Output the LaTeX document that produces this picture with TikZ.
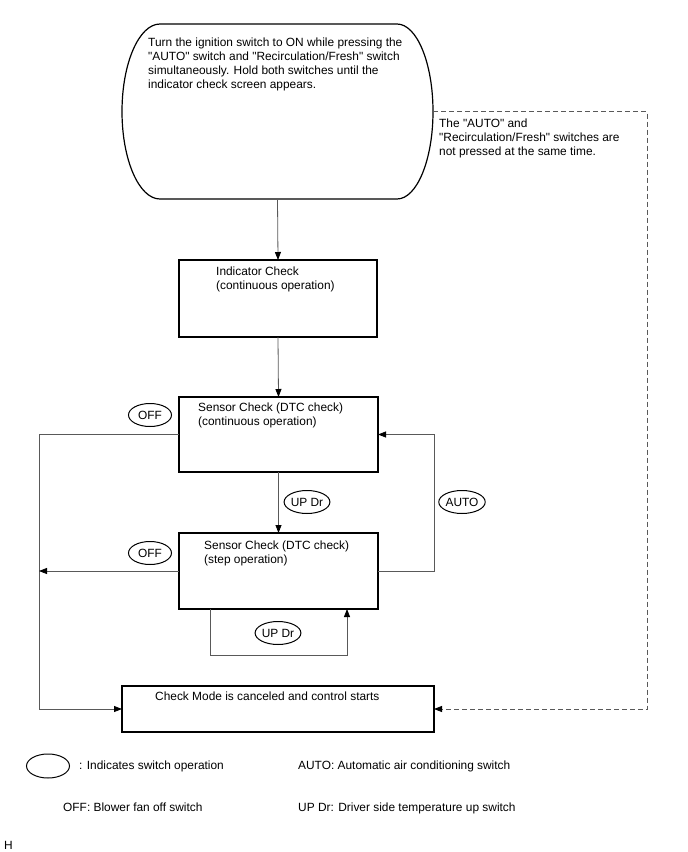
\documentclass[tikz,border=0pt]{standalone}
\usepackage{fontspec}
\setmainfont{Liberation Sans}[Ligatures=TeXOff]
\usetikzlibrary{arrows.meta,positioning,shapes.geometric}

\tikzset{
  box/.style={draw, line width=1.2pt, anchor=north west, inner sep=0pt, outer sep=0pt},
  txt/.style={inner sep=0pt, align=left, anchor=north west, font=\fontsize{11.9}{14}\selectfont},
  sw/.style={draw, ellipse, line width=1pt, inner sep=0pt, minimum width=43pt,
    minimum height=23pt, font=\fontsize{11.9}{14}\selectfont},
  conn/.style={draw=black!65, line width=0.8pt, -{Triangle[length=8pt,width=6pt,black]}},
  dconn/.style={conn, dash pattern=on 5pt off 3pt}
}

\begin{document}
\begin{tikzpicture}[x=1pt,y=-1pt]
    \useasboundingbox (0,0) rectangle (688,852);

    % start condition
    \node[minimum width=311pt, minimum height=175pt, inner sep=0pt, outer sep=0pt] (start) at (277.5,111.5) {};
    \draw[line width=1.2pt] (160,24) -- (397,24)
        arc[start angle=-90, end angle=90, x radius=36, y radius=87.5] -- (160,199)
        arc[start angle=90, end angle=270, x radius=38, y radius=87.5] -- cycle;
    \node[txt, below right=14pt and 26pt of start.north west] (starttxt)
        {Turn the ignition switch to ON while pressing the\\
         "AUTO" switch and "Recirculation/Fresh" switch\\
         simultaneously. Hold both switches until the\\
         indicator check screen appears.};
    \node[txt, below right=7pt and 6pt of start.east] (note)
        {The "AUTO" and\\"Recirculation/Fresh" switches are\\not pressed at the same time.};

    % check boxes
    \node[box, minimum width=198pt, minimum height=77pt] (ind) at (179,260) {};
    \node[txt, below right=7pt and 37pt of ind.north west] (indtxt) {Indicator Check\\(continuous operation)};

    \node[box, minimum width=199pt, minimum height=75pt] (cont) at (179,397) {};
    \node[txt, below right=6pt and 19pt of cont.north west] (conttxt) {Sensor Check (DTC check)\\(continuous operation)};

    \node[box, minimum width=199pt, minimum height=76pt] (step) at (179,533) {};
    \node[txt, below right=8pt and 25pt of step.north west] (steptxt) {Sensor Check (DTC check)\\(step operation)};

    \node[box, minimum width=312pt, minimum height=46pt] (fin) at (122,686) {};
    \node[txt, below right=6pt and 33pt of fin.north west] (fintxt) {Check Mode is canceled and control starts};

    % switch operations
    \node[sw] (off1) at (150,415) {OFF};
    \node[sw] (off2) at (150,553) {OFF};
    \node[sw] (up1)  at (307,502) {UP Dr};
    \node[sw] (up2)  at (278,633) {UP Dr};
    \node[sw] (auto) at (462,502) {AUTO};

    % connectors
    \coordinate (offend) at (39,571);
    \draw[conn] (start.south) -- (ind.north);
    \draw[conn] (ind.south) -- (cont.north);
    \draw[conn] (cont.south) -- (step.north);
    \draw[conn] ([xshift=31pt]step.south west) -- ++(0,46) -| ([xshift=-31pt]step.south east);
    \draw[conn] (step.east) -- ++(56,0) |- (cont.east);
    \draw[conn] (cont.west) -- ++(-140,0) |- (fin.west);
    \draw[conn] (step.west) -- (offend);
    \draw[dconn] (start.east) -- ++(214,0) |- (fin.east);

    % legend
    \node[sw, minimum height=24pt] (key) at (48,766) {};
    \node[txt, right=9pt of key, anchor=west] (keytxt) {: Indicates switch operation};
    \node[txt] (legauto) at (298,761) {AUTO: Automatic air conditioning switch};
    \node[txt] (legoff)  at (63,803)  {OFF: Blower fan off switch};
    \node[txt] (legup)   at (298,803) {UP Dr: Driver side temperature up switch};
    \node[txt] (figid)   at (4,841)   {H};
\end{tikzpicture}
\end{document}
